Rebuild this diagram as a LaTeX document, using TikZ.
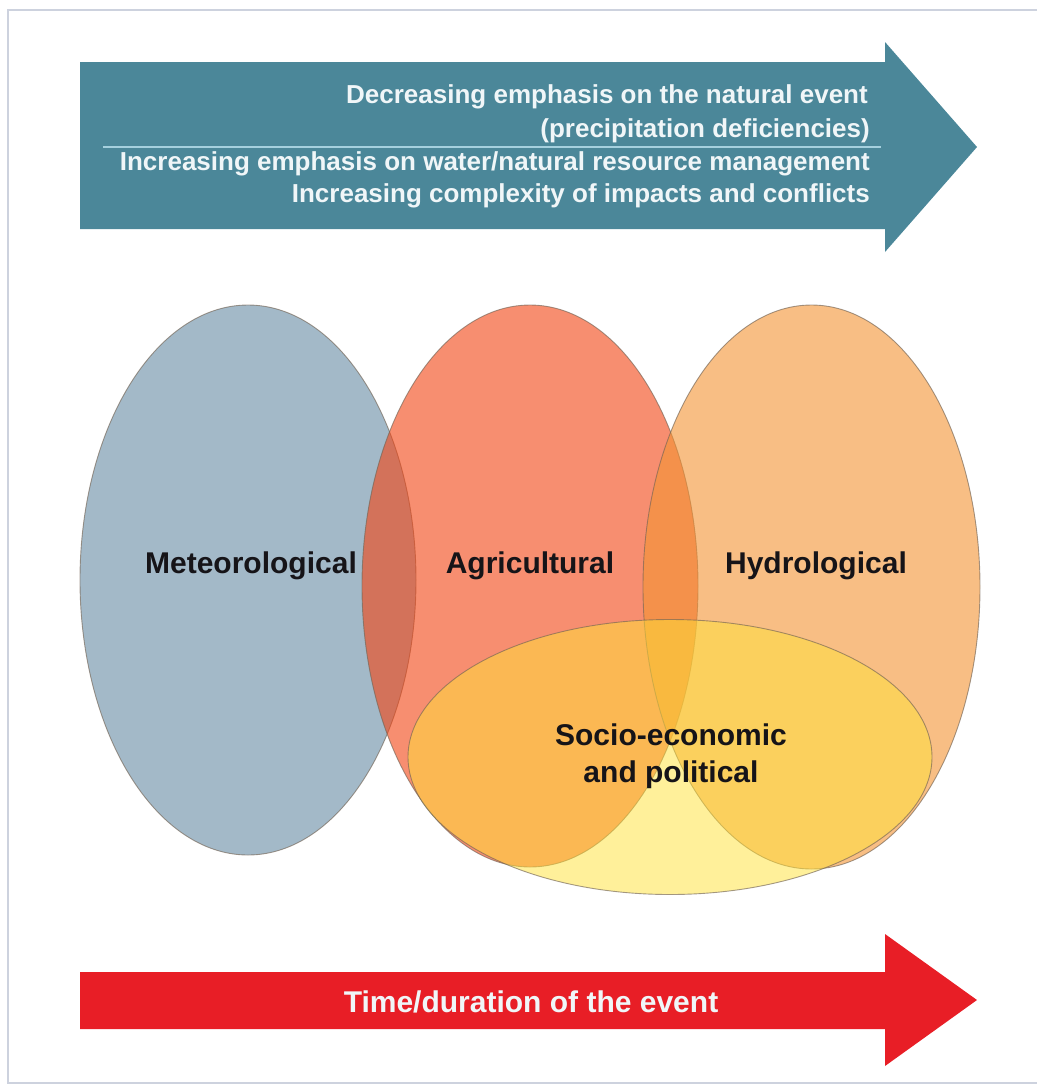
\documentclass[tikz,border=0pt]{standalone}
\usepackage{fontspec}
\setmainfont{Liberation Sans}
\usetikzlibrary{shapes.geometric}

\definecolor{arrowteal}{RGB}{75,135,153}
\definecolor{arrowred}{RGB}{232,30,38}
\definecolor{rulelight}{RGB}{165,208,222}
\definecolor{bannerwhite}{RGB}{240,246,248}
\definecolor{framegray}{RGB}{205,210,222}
\definecolor{rimgray}{RGB}{115,100,85}
\definecolor{labelblack}{RGB}{22,20,24}
\definecolor{meteofill}{RGB}{102,138,163}
\definecolor{agrifill}{RGB}{242,67,17}
\definecolor{hydrofill}{RGB}{243,147,50}
\definecolor{sociofill}{RGB}{255,226,54}

\begin{document}
\begin{tikzpicture}[x=1pt,y=-1pt,
        zone/.style={ellipse,draw=rimgray,draw opacity=.65,line width=.9pt,
            inner sep=0,fill opacity=.6},
        zonelabel/.style={font=\fontsize{30}{36}\selectfont\bfseries,
            text=labelblack,anchor=base,inner sep=0},
        bannertext/.style={font=\fontsize{26}{31}\selectfont\bfseries,
            text=bannerwhite,anchor=base east,inner sep=0}]
    \useasboundingbox (0,0) rectangle (1037,1088);
    \draw[framegray,line width=1.3pt] (8,10) rectangle (1060,1083);
    % upper arrow with its four lines
    \fill[arrowteal] (80,62) -- (885,62) -- (885,42) -- (977,147)
        -- (885,252) -- (885,229) -- (80,229) -- cycle;
    \coordinate (ruleL) at (103,147);
    \coordinate (ruleR) at (881,147);
    \draw[rulelight,line width=1.2pt] (ruleL) -- (ruleR);
    \node[bannertext] (decr) at (868,103) {Decreasing emphasis on the natural event};
    \node[bannertext] (precip) at (870,137) {(precipitation deficiencies)};
    \node[bannertext] (incwater) at (870,170) {Increasing emphasis on water/natural resource management};
    \node[bannertext] (inccomp) at (870,202) {Increasing complexity of impacts and conflicts};
    % the four kinds of drought
    \node[zone,fill=meteofill,minimum width=336pt,minimum height=550pt] (meteo) at (248,580) {};
    \node[zone,fill=agrifill,minimum width=336pt,minimum height=562pt] (agri) at (530,586) {};
    \node[zone,fill=hydrofill,minimum width=337pt,minimum height=564pt] (hydro) at (811.5,587) {};
    \node[zone,fill=sociofill,fill opacity=.5,minimum width=524pt,minimum height=275pt] (socio) at (670,757) {};
    \node[zonelabel] (meteolbl) at (251,573) {Meteorological};
    \node[zonelabel] (agrilbl) at (530,573) {Agricultural};
    \node[zonelabel] (hydrolbl) at (816,573) {Hydrological};
    \node[zonelabel] (sociolbl1) at (671,745) {Socio-economic};
    \node[zonelabel] (sociolbl2) at (671,782) {and political};
    % lower arrow
    \fill[arrowred] (80,972) -- (885,972) -- (885,934) -- (977,1000)
        -- (885,1066) -- (885,1029) -- (80,1029) -- cycle;
    \node[bannertext,font=\fontsize{30}{36}\selectfont\bfseries,anchor=base] (timelbl) at (531,1012) {Time/duration of the event};
\end{tikzpicture}
\end{document}
